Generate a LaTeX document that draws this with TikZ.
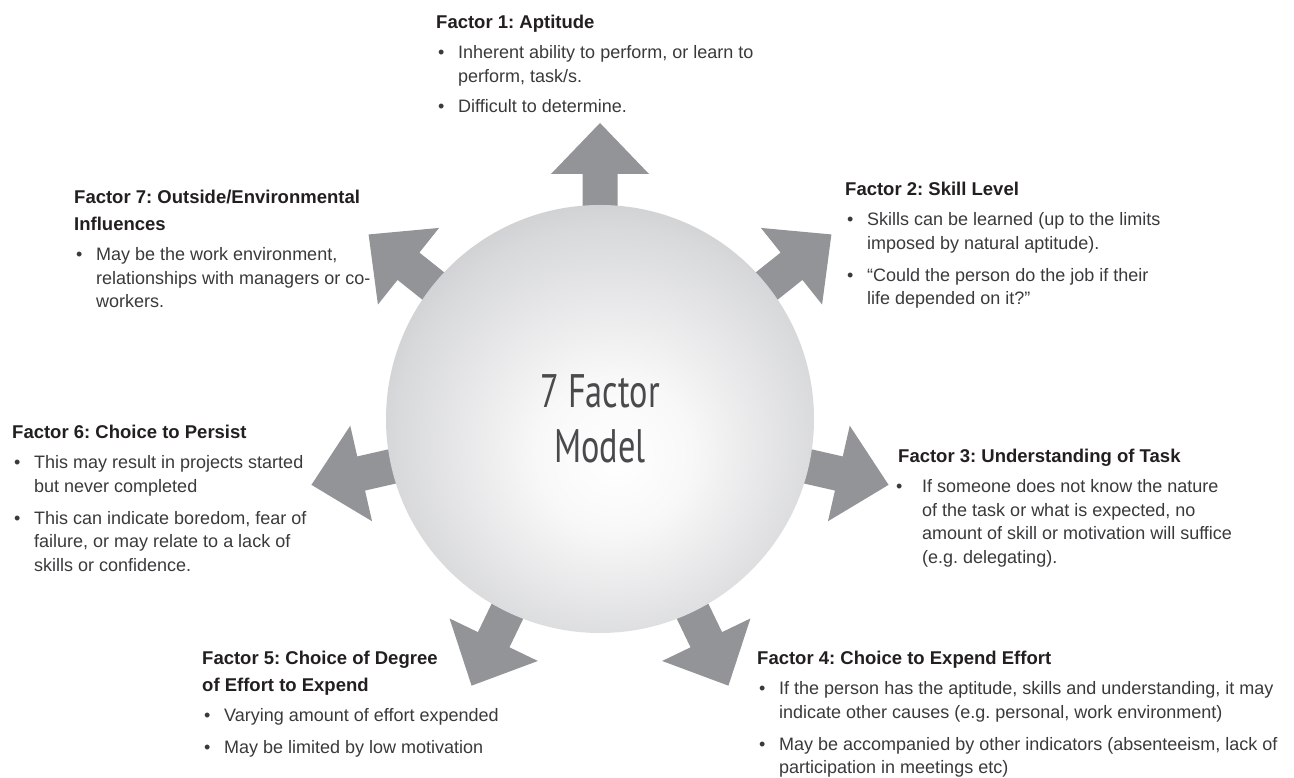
\documentclass[tikz,border=0pt]{standalone}
\usepackage{fontspec}
\setmainfont{Liberation Sans}
\newfontfamily\modelfont[FakeStretch=0.73]{PT Sans}
\frenchspacing
\definecolor{arrowgray}{RGB}{147,148,152}
\definecolor{titlecol}{RGB}{35,31,32}
\definecolor{bodycol}{RGB}{58,58,60}
\definecolor{modelcol}{RGB}{74,74,76}
\definecolor{ballA}{RGB}{248,248,248}
\definecolor{ballB}{RGB}{216,217,219}
\definecolor{ballC}{RGB}{188,189,192}
\definecolor{ballD}{RGB}{161,162,166}
\definecolor{ballE}{RGB}{136,137,141}
\pgfdeclareradialshading{ballshade}{\pgfpoint{2bp}{-5bp}}{color(0bp)=(white); color(9bp)=(ballA); color(25bp)=(ballB); color(35bp)=(ballC); color(43bp)=(ballD); color(50bp)=(ballE)}
\newcommand{\ttl}[1]{{\fontsize{18.5}{23.5}\selectfont\bfseries\color{titlecol}#1}}
\newcommand{\bl}{\makebox[22pt][l]{\hspace{2pt}•}}
\newcommand{\blc}{\makebox[24pt][l]{\hspace{-2pt}•}}
\newcommand{\ct}{\hspace*{22pt}}
\newcommand{\ctc}{\hspace*{24pt}}
\tikzset{
  block/.style={anchor=base west, align=left, inner sep=0pt, text=bodycol,
    font=\fontsize{18}{23.5}\selectfont},
  arrowshape/.style={fill=arrowgray, draw=none},
  ball/.style={circle, minimum size=428pt, inner sep=0pt, shading=ballshade,
    text=modelcol, align=center, font=\modelfont\fontsize{47}{55}\selectfont}
}
\begin{document}
\begin{tikzpicture}[x=1pt, y=1pt]
\fill[white] (0,0) rectangle (1294,778);
\useasboundingbox (0,0) rectangle (1294,778);
\coordinate (c) at (600,359);
% arrows
\foreach \ang in {90, 38.571, -12.857, -64.286, -115.714, -167.143, 141.429}{
  \begin{scope}[shift={(c)}, rotate=\ang]
    \fill[arrowshape] (150,-17.5) -- (245,-17.5) -- (245,-49) -- (296,0) -- (245,49) -- (245,17.5) -- (150,17.5) -- cycle;
  \end{scope}
}
% central ball
\node[ball] (hub) at (c) {7 Factor\\Model};
% factor texts (anchored at the baseline of their last line)
\node[block] (f1) at (436,665.5) {\ttl{Factor 1: Aptitude}\\[6.5pt]
\bl Inherent ability to perform, or learn to\\
\ct perform, task/s.\\[6.5pt]
\bl Difficult to determine.};
\node[block] (f2) at (845,473) {\ttl{Factor 2: Skill Level}\\[6.5pt]
\bl Skills can be learned (up to the limits\\
\ct imposed by natural aptitude).\\[8.5pt]
\bl “Could the person do the job if their\\
\ct life depended on it?”};
\node[block] (f3) at (898,214.5) {\ttl{Factor 3: Understanding of Task}\\[6.5pt]
\blc If someone does not know the nature\\
\ctc of the task or what is expected, no\\
\ctc amount of skill or motivation will suffice\\
\ctc (e.g. delegating).};
\node[block] (f4) at (757,4) {\ttl{Factor 4: Choice to Expend Effort}\\[6.5pt]
\bl If the person has the aptitude, skills and understanding, it may\\
\ct indicate other causes (e.g. personal, work environment)\\[8.5pt]
\bl May be accompanied by other indicators (absenteeism, lack of\\
\ct participation in meetings etc)};
\node[block] (f5) at (202,24) {\ttl{Factor 5: Choice of Degree}\\[3.5pt]
\ttl{of Effort to Expend}\\[6.5pt]
\bl Varying amount of effort expended\\[8.5pt]
\bl May be limited by low motivation};
\node[block] (f6) at (12,206.5) {\ttl{Factor 6: Choice to Persist}\\[6.5pt]
\bl This may result in projects started\\
\ct but never completed\\[8.5pt]
\bl This can indicate boredom, fear of\\
\ct failure, or may relate to a lack of\\
\ct skills or confidence.};
\node[block] (f7) at (74,470) {\ttl{Factor 7: Outside/Environmental}\\[3.5pt]
\ttl{Influences}\\[6.5pt]
\bl May be the work environment,\\
\ct relationships with managers or co-\\
\ct workers.};
\end{tikzpicture}
\end{document}
